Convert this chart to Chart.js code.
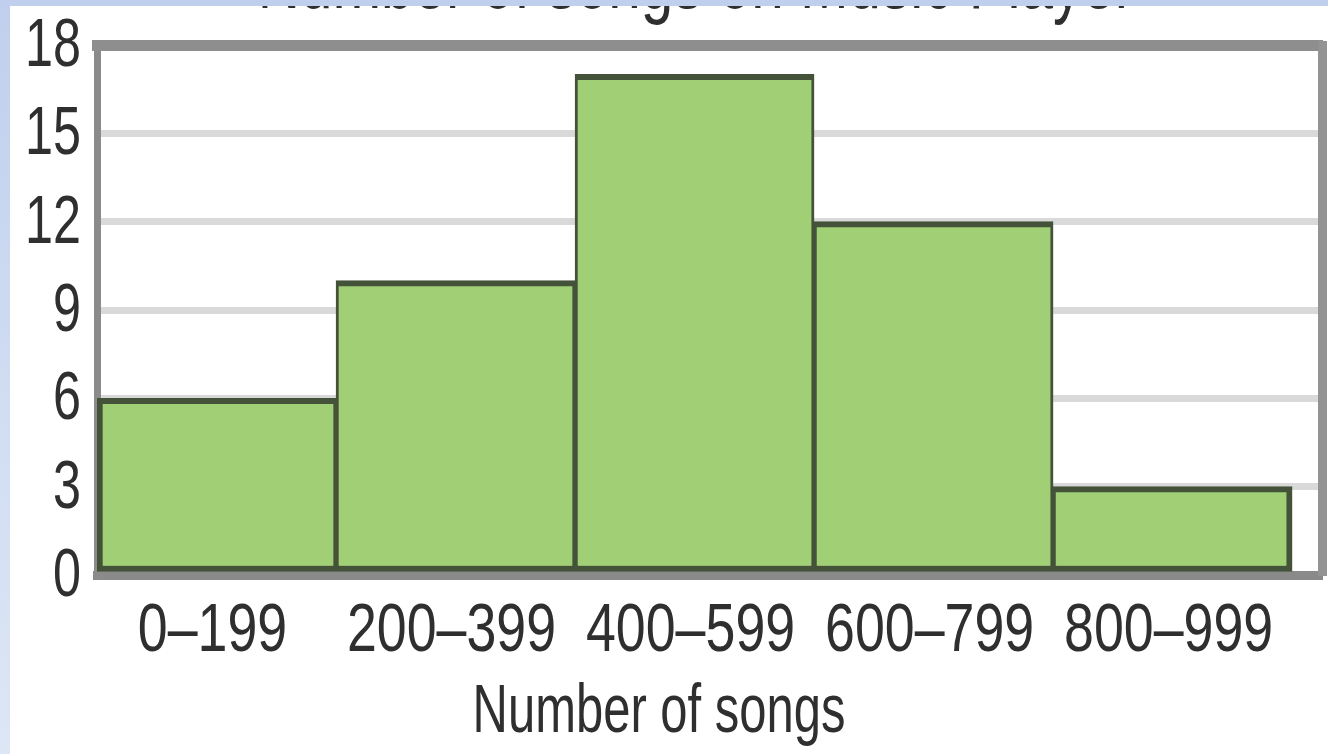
<!DOCTYPE html>
<html>
<head>
<meta charset="utf-8">
<script src="https://cdn.jsdelivr.net/npm/chart.js@4/dist/chart.umd.min.js"></script>
<style>
  html, body { margin: 0; padding: 0; background: #ffffff; }
  #wrap { position: relative; width: 1328px; height: 754px; overflow: hidden; }
  #chart { position: absolute; left: 0; top: 0; }
  .edge-top { position: absolute; left: 0; top: 0; width: 1328px; height: 6px; background: #bfcfed; }
  .edge-left { position: absolute; left: 0; top: 0; width: 10px; height: 754px;
               background: linear-gradient(#bfcfed, #cfdcf2 50%, #dde6f5); }
</style>
</head>
<body>
<div id="wrap">
  <canvas id="chart" width="1328" height="754"></canvas>
  <div class="edge-top"></div>
  <div class="edge-left"></div>
</div>
<script>
// Histogram: songs stored on music players
const chartTitle = 'Number of songs on Music Player';
const axisTitle = 'Number of songs';
const binLabels = ['0–199', '200–399', '400–599', '600–799', '800–999'];
const binStarts = [0, 200, 400, 600, 800];
const binWidth = 200;
const counts = [6, 10, 17, 12, 3];
const yTicks = [0, 3, 6, 9, 12, 15, 18];

const FONT = '"Liberation Sans", Arial, sans-serif';
const TEXT = '#2f2f2f';

function squeezedText(ctx, text, x, y, size, align, sx) {
  ctx.save();
  ctx.font = size + 'px ' + FONT;
  ctx.fillStyle = TEXT;
  ctx.textAlign = align;
  ctx.textBaseline = 'alphabetic';
  ctx.translate(x, y);
  ctx.scale(sx, 1);
  ctx.fillText(text, 0, 0);
  ctx.restore();
}

// Narrow labels for both axes, the axis title and the chart title
const labelPlugin = {
  id: 'narrowLabels',
  afterDraw(chart) {
    const ctx = chart.ctx;
    const xs = chart.scales.x, ys = chart.scales.y;
    const area = chart.chartArea;
    yTicks.forEach(v => {
      squeezedText(ctx, String(v), 81, ys.getPixelForValue(v) + 21, 68, 'right', 0.74);
    });
    binLabels.forEach((lab, i) => {
      const cx = xs.getPixelForValue(binStarts[i] + binWidth / 2) - 4;
      squeezedText(ctx, lab, cx, area.bottom + 76, 68, 'center', 0.79);
    });
    squeezedText(ctx, axisTitle, 659, area.bottom + 157, 68, 'center', 0.72);
    squeezedText(ctx, chartTitle, 696, 8, 80, 'center', 0.73);
  }
};

const n = counts.length;
new Chart(document.getElementById('chart'), {
  type: 'bar',
  data: {
    datasets: [{
      data: counts.map((c, i) => ({ x: binStarts[i] + binWidth / 2, y: c })),
      backgroundColor: '#a0cf76',
      borderColor: '#44523a',
      borderSkipped: false,
      borderWidth: (c) => ({
        top: 6, bottom: 6,
        left: c.dataIndex === 0 ? 6 : 3,
        right: c.dataIndex === n - 1 ? 6 : 3
      }),
      barPercentage: 1,
      categoryPercentage: 1
    }]
  },
  options: {
    responsive: false,
    animation: false,
    devicePixelRatio: 1,
    layout: { padding: { left: 97, top: 45, right: 6, bottom: 179 } },
    plugins: { legend: { display: false }, tooltip: { enabled: false }, title: { display: false } },
    scales: {
      x: {
        type: 'linear', position: 'bottom', min: 0, max: 1025, offset: false,
        ticks: { display: false },
        grid: { display: false, drawTicks: false, offset: false },
        border: { display: true, color: '#8a8a8a', width: 9 }
      },
      y: {
        type: 'linear', position: 'left', min: 0, max: 18,
        ticks: { display: false, stepSize: 3 },
        grid: { display: true, drawTicks: false, color: '#d9d9d9', lineWidth: 7 },
        border: { display: true, color: '#8b8b8b', width: 7 }
      },
      xTop: {
        type: 'linear', position: 'top', axis: 'x', min: 0, max: 1,
        ticks: { display: false },
        grid: { display: false, drawTicks: false },
        border: { display: true, color: '#8e8e8e', width: 11 }
      },
      yRight: {
        type: 'linear', position: 'right', axis: 'y', min: 0, max: 1,
        ticks: { display: false },
        grid: { display: false, drawTicks: false },
        border: { display: true, color: '#939393', width: 9 }
      }
    }
  },
  plugins: [labelPlugin]
});
</script>
</body>
</html>
